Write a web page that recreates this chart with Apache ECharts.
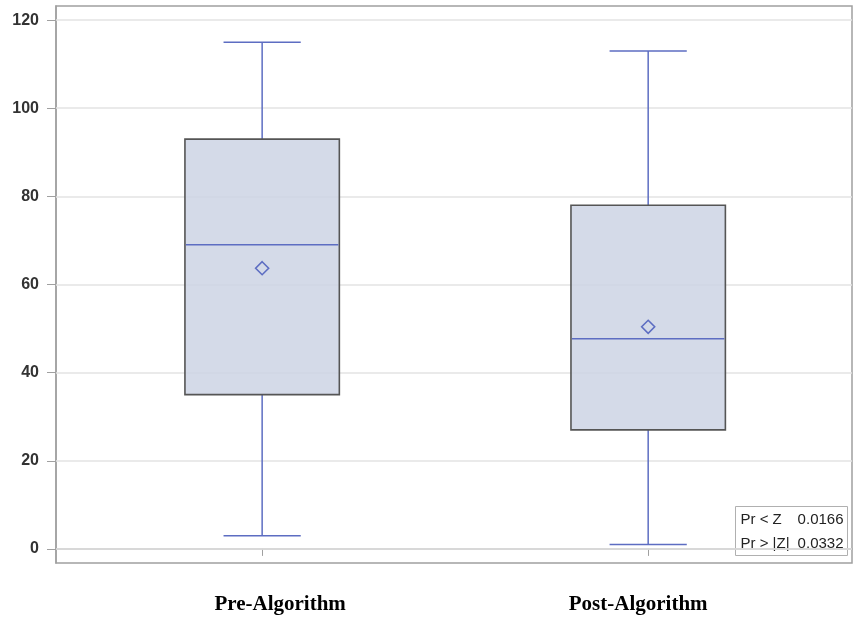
<!DOCTYPE html>
<html>
<head>
<meta charset="utf-8">
<script src="https://cdn.jsdelivr.net/npm/echarts@6/dist/echarts.min.js"></script>
<style>html,body{margin:0;padding:0;background:#fff;}#c{width:859px;height:621px;}</style>
</head>
<body>
<div id="c"></div>
<script>
// ---- data ----
const categories = ['Pre-Algorithm', 'Post-Algorithm'];
const positions = [1, 2];
const whiskerLow = [3, 1];
const q1 = [35, 27];
const median = [69, 47.7];
const q3 = [93, 78];
const whiskerHigh = [115, 113];
const means = [63.7, 50.4];
const yTicks = [0, 20, 40, 60, 80, 100, 120];
const statLabels = ['Pr < Z', 'Pr > |Z|'];
const statValues = ['0.0166', '0.0332'];

const boxData = positions.map((p, i) => [p, whiskerLow[i], q1[i], median[i], q3[i], whiskerHigh[i], means[i]]);

const chart = echarts.init(document.getElementById('c'), null, {renderer: 'canvas'});
const BLUE = '#5d6dc2';
const EDGE = '#555555';
const FILL = 'rgba(204,211,228,0.85)';

function renderItem(params, api) {
  const x = api.value(0);
  const pLow = api.coord([x, api.value(1)]);
  const pQ1 = api.coord([x, api.value(2)]);
  const pMed = api.coord([x, api.value(3)]);
  const pQ3 = api.coord([x, api.value(4)]);
  const pHigh = api.coord([x, api.value(5)]);
  const pMean = api.coord([x, api.value(6)]);
  const w = api.size([0.4, 0])[0];
  const cx = pMed[0];
  const half = w / 2, cap = w / 4, d = 6.5;
  const line = (x1, y1, x2, y2, color) => ({type: 'line', shape: {x1, y1, x2, y2}, style: {stroke: color, lineWidth: 1.5}});
  return {
    type: 'group',
    children: [
      line(cx, pHigh[1], cx, pQ3[1], BLUE),
      line(cx, pQ1[1], cx, pLow[1], BLUE),
      line(cx - cap, pHigh[1], cx + cap, pHigh[1], BLUE),
      line(cx - cap, pLow[1], cx + cap, pLow[1], BLUE),
      {type: 'rect', shape: {x: cx - half, y: pQ3[1], width: w, height: pQ1[1] - pQ3[1]},
       style: {fill: FILL, stroke: EDGE, lineWidth: 1.6}},
      line(cx - half + 1, pMed[1], cx + half - 1, pMed[1], BLUE),
      {type: 'polygon', shape: {points: [[pMean[0], pMean[1] - d], [pMean[0] + d, pMean[1]], [pMean[0], pMean[1] + d], [pMean[0] - d, pMean[1]]]},
       style: {fill: 'none', stroke: BLUE, lineWidth: 1.6}}
    ]
  };
}

const catFont = {fontFamily: 'Liberation Serif', fontWeight: 'bold', fontSize: 21, color: '#000'};

const option = {
  backgroundColor: '#ffffff',
  animation: false,
  grid: {left: 56, right: 7, top: 6, bottom: 58, show: true, borderColor: '#a0a0a0', borderWidth: 1.5, backgroundColor: 'transparent'},
  xAxis: {
    type: 'value', min: 0.466, max: 2.528,
    axisLine: {show: true, lineStyle: {color: '#a0a0a0', width: 1.5}},
    axisTick: {show: true, length: 7, lineStyle: {color: '#a0a0a0'}, customValues: positions},
    axisLabel: Object.assign({
      customValues: positions, margin: 31,
      formatter: v => {
        const i = positions.indexOf(Math.round(v));
        return i < 0 ? '' : '{c' + i + '|' + categories[i] + '}';
      },
      rich: {
        c0: Object.assign({padding: [0, 0, 0, 36]}, catFont),
        c1: Object.assign({padding: [0, 20, 0, 0]}, catFont)
      }
    }, catFont),
    splitLine: {show: false}
  },
  yAxis: {
    type: 'value', min: -3.2, max: 123.2,
    axisLine: {show: true, lineStyle: {color: '#a0a0a0', width: 1.5}},
    axisTick: {show: true, length: 9, lineStyle: {color: '#a0a0a0'}, customValues: yTicks},
    axisLabel: {customValues: yTicks, margin: 17, fontFamily: 'Liberation Sans', fontWeight: 'bold', fontSize: 16, color: '#333'},
    splitLine: {show: false}
  },
  series: [
    {
      type: 'line', data: [], silent: true, z: 1,
      markLine: {
        silent: true, symbol: 'none', label: {show: false}, z: 1,
        lineStyle: {color: '#e3e3e3', width: 1.5, type: 'solid'},
        data: yTicks.map(v => ({yAxis: v}))
      }
    },
    {
      type: 'custom', renderItem: renderItem, data: boxData, z: 5,
      encode: {x: 0, y: [1, 2, 3, 4, 5, 6]}
    }
  ],
  graphic: [{
    type: 'group', right: 11, bottom: 65, z: 10,
    children: [
      {type: 'rect', shape: {x: 0, y: 0, width: 112, height: 49}, style: {fill: '#fff', stroke: '#b0b0b0', lineWidth: 1}},
      {type: 'text', x: 5, y: 13, style: {text: statLabels[0], font: '15px "Liberation Sans"', fill: '#222', verticalAlign: 'middle'}},
      {type: 'text', x: 108, y: 13, style: {text: statValues[0], font: '15px "Liberation Sans"', fill: '#222', align: 'right', verticalAlign: 'middle'}},
      {type: 'text', x: 5, y: 37, style: {text: statLabels[1], font: '15px "Liberation Sans"', fill: '#222', verticalAlign: 'middle'}},
      {type: 'text', x: 108, y: 37, style: {text: statValues[1], font: '15px "Liberation Sans"', fill: '#222', align: 'right', verticalAlign: 'middle'}}
    ]
  }]
};
chart.setOption(option);
</script>
</body>
</html>
